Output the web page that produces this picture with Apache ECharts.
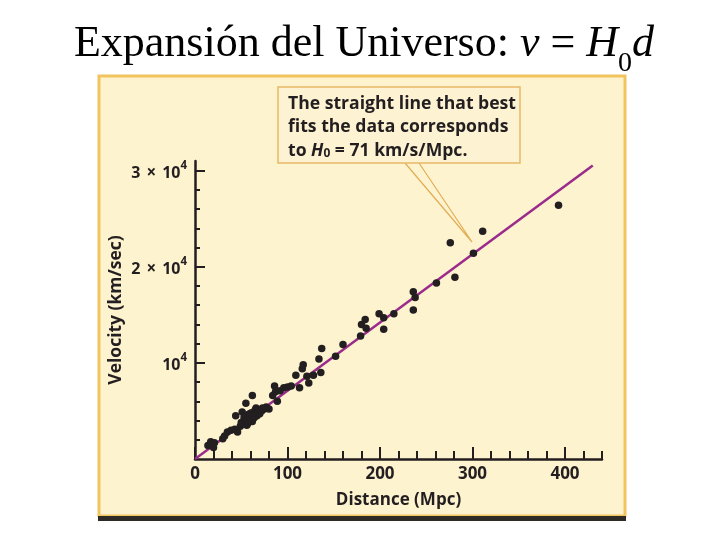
<!DOCTYPE html>
<html lang="es">
<head>
<meta charset="UTF-8">
<title>Expansión del Universo</title>
<style>
    html,body{margin:0;padding:0;background:#fff;}
    #mychart{width:720px;height:540px;}
</style>
</head>
<body>
<div id="mychart"></div>
<script src="https://cdn.jsdelivr.net/npm/echarts@6/dist/echarts.min.js"></script>
<script>
// galaxias: distancia (Mpc) y velocidad (km/s)
var distance=[14,17,20,21,30,32,35,39,43,46,44,49,51,52,53,54,55,56,57,58,
              59,60,62,62,63,64,65,66,67,68,70,72,75,77,80,84,86,87,89,92,
              96,100,104,109,113,116,117,121,123,128,134,136,137,152,160,179,180,184,185,199,
              204,204,215,236,238,236,261,281,276,301,311,393,
              50,55,58,61,66,69,73,57]
var velocity=[1400,1800,1200,1700,2100,2400,2800,3000,3100,2800,4500,3400,4900,3700,4300,4000,5800,3500,3700,4400,
              4700,4200,6600,3900,4500,4300,5100,5300,4500,4900,4700,5000,5200,5400,5200,6600,7600,7000,6000,7100,
              7400,7500,7600,8700,7400,9400,9800,8600,7900,8700,10400,9000,11500,10700,11900,12800,14000,14500,13600,15100,
              14700,13500,15100,17400,16800,15500,18300,18900,22500,21400,23700,26400,
              3800,4200,3900,4800,4700,5100,5300,4600]
var h0=71        // pendiente de la recta (km/s/Mpc)
var fitEnd=430   // la recta llega hasta aqui (Mpc)
var xMajor=[0,100,200,300,400]
var xMinor=[20,40,60,80,120,140,160,180,220,240,260,280,320,340,360,380,420,440]
var yMajor=[10000,20000,30000]
var yMinor=[2000,4000,6000,8000,12000,14000,16000,18000,22000,24000,26000,28000]

var ink='#231f20'
var points=[]
for(let i=0;i<distance.length;i++){
    points.push([distance[i],velocity[i]])
}
var fitLine=[[0,0],[fitEnd,fitEnd*h0]]

var myChart=echarts.init(document.getElementById('mychart'))
var labelFont={fontFamily:'Open Sans',fontWeight:'bold',color:ink}

option={
    animation:false,
    backgroundColor:'#fff',
    grid:{left:195,right:118,top:161,bottom:81},
    xAxis:[
        {
            type:'value',min:0,max:440,
            axisLine:{lineStyle:{color:ink,width:2.5}},
            axisTick:{inside:true,length:12,lineStyle:{color:ink,width:2},customValues:xMajor},
            axisLabel:Object.assign({fontSize:17,margin:7,customValues:xMajor},labelFont),
            splitLine:{show:false},
            name:'Distance (Mpc)',nameLocation:'middle',nameGap:33,
            nameTextStyle:Object.assign({fontSize:17},labelFont)
        },
        {   // ticks menores
            type:'value',min:0,max:440,position:'bottom',
            axisLine:{show:false},
            axisTick:{inside:true,length:8,lineStyle:{color:ink,width:2},customValues:xMinor},
            axisLabel:{show:false},
            splitLine:{show:false}
        }
    ],
    yAxis:[
        {
            type:'value',min:0,max:31000,
            axisLine:{lineStyle:{color:ink,width:2.5}},
            axisTick:{inside:true,length:10,lineStyle:{color:ink,width:2},customValues:yMajor},
            axisLabel:{
                margin:8,customValues:yMajor,
                formatter:function(v){
                    if(v==10000) return '{b|10}{s|4}'
                    return '{b|'+(v/10000)+'}{x|×}{b|10}{s|4}'
                },
                rich:{
                    b:Object.assign({fontSize:16,lineHeight:22,verticalAlign:'bottom'},labelFont),
                    x:Object.assign({fontSize:17,lineHeight:22,verticalAlign:'bottom',padding:[0,6,0,6]},labelFont),
                    s:Object.assign({fontSize:11.5,lineHeight:22,verticalAlign:'top',padding:[0,0,7,0]},labelFont)
                }
            },
            splitLine:{show:false},
            name:'Velocity (km/sec)',nameLocation:'middle',nameGap:70,
            nameMoveOverlap:false,
            nameTextStyle:Object.assign({fontSize:17.5},labelFont)
        },
        {   // ticks menores
            type:'value',min:0,max:31000,position:'left',
            axisLine:{show:false},
            axisTick:{inside:true,length:5,lineStyle:{color:ink,width:2},customValues:yMinor},
            axisLabel:{show:false},
            splitLine:{show:false}
        }
    ],
    graphic:[
        {   // panel crema
            type:'rect',z:-10,
            shape:{x:99,y:76,width:526,height:440},
            style:{fill:'#fef3cf',stroke:'#f2c45e',lineWidth:3}
        },
        {
            type:'rect',z:-9,
            shape:{x:98,y:516,width:528,height:5},
            style:{fill:'#2e2a26'}
        },
        {   // titulo
            type:'text',z:5,
            x:364,y:22,
            style:{
                text:'{n|Expansión del Universo: }{i|v}{n| = }{i|H}{sub|0}{i|d}',
                align:'center',verticalAlign:'top',
                rich:{
                    n:{fontFamily:'Liberation Serif',fontSize:44,lineHeight:44,fill:'#000',verticalAlign:'top'},
                    i:{fontFamily:'Liberation Serif',fontStyle:'italic',fontSize:44,lineHeight:44,fill:'#000',verticalAlign:'top'},
                    sub:{fontFamily:'Liberation Serif',fontSize:28,lineHeight:56,fill:'#000',verticalAlign:'bottom'}
                }
            }
        },
        {   // lineas del globo
            type:'polyline',z:-5,
            shape:{points:[[405,163],[472,242],[419,163]]},
            style:{fill:null,stroke:'#e2ad55',lineWidth:1.2}
        },
        {
            type:'rect',z:-4,
            shape:{x:278,y:87,width:242,height:76},
            style:{fill:'#fdf2d2',stroke:'#e7b867',lineWidth:1.5}
        },
        {
            type:'text',z:-3,
            x:288,y:89,
            style:{
                text:'{t|The straight line that best}\n{t|fits the data corresponds}\n{t|to }{h|H}{sub|0}{t| = 71 km/s/Mpc.}',
                rich:{
                    t:{fontFamily:'Open Sans',fontWeight:'bold',fontSize:17.6,lineHeight:23.5,fill:ink,verticalAlign:'bottom'},
                    h:{fontFamily:'Open Sans',fontWeight:'bold',fontStyle:'italic',fontSize:17.6,lineHeight:23.5,fill:ink,verticalAlign:'bottom'},
                    sub:{fontFamily:'Open Sans',fontWeight:'bold',fontSize:12,lineHeight:14,fill:ink,verticalAlign:'bottom'}
                }
            }
        }
    ],
    series:[
        {
            type:'line',name:'ajuste',
            data:fitLine,
            showSymbol:false,
            z:2,
            lineStyle:{color:'#9b2b8b',width:2.5}
        },
        {
            type:'scatter',name:'galaxias',
            data:points,
            symbolSize:7.5,
            z:3,
            itemStyle:{color:ink,opacity:1}
        }
    ]
}
myChart.setOption(option)
</script>
</body>
</html>
